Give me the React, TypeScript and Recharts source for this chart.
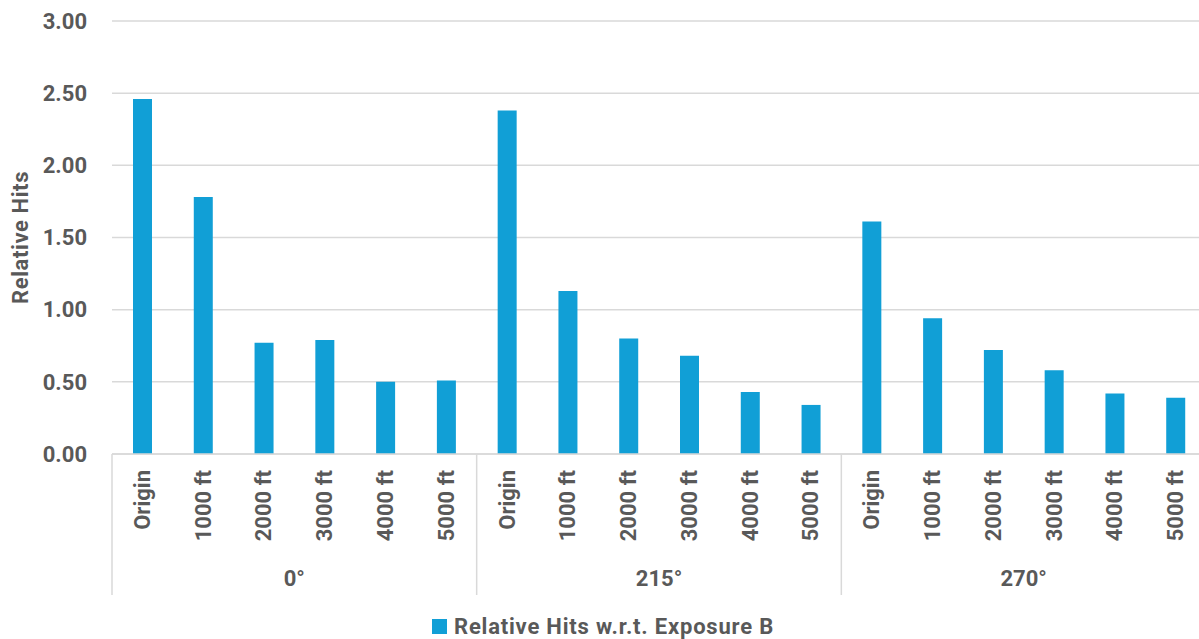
import React from 'react';
import { BarChart, Bar, XAxis, YAxis, CartesianGrid, Legend } from 'recharts';

// Bearing groups and the sampling distances within each group
const angles = ['0°', '215°', '270°'];
const distances = ['Origin', '1000 ft', '2000 ft', '3000 ft', '4000 ft', '5000 ft'];

// Relative hits per distance, one array per bearing
const hits0 = [2.46, 1.78, 0.77, 0.79, 0.5, 0.51];
const hits215 = [2.38, 1.13, 0.8, 0.68, 0.43, 0.34];
const hits270 = [1.61, 0.94, 0.72, 0.58, 0.42, 0.39];

const yTicks = [0, 0.5, 1, 1.5, 2, 2.5, 3];
const seriesName = 'Relative Hits w.r.t. Exposure B';

const seriesByAngle = [hits0, hits215, hits270];

const rows = angles.flatMap((angle, gi) =>
  distances.map((dist, di) => ({
    key: `${angle}|${dist}`,
    angle,
    dist,
    value: seriesByAngle[gi][di],
  }))
);

const W = 1215;
const H = 639;
const MARGIN = { top: 21, right: 9, bottom: 0, left: 0 };
const Y_AXIS_W = 112;
const X_AXIS_H = 145;
const LEGEND_H = 40;
const PLOT_W = W - MARGIN.left - MARGIN.right - Y_AXIS_W;
const CAT_W = PLOT_W / rows.length;

const TEXT = '#595959';
const GRID = '#d9d9d9';
const BAR = '#119fd6';
const FONT = 'Roboto, "Liberation Sans", sans-serif';

const CategoryTick = (props: any) => {
  const { x, y, payload, index } = props;
  const row = rows.find((r) => r.key === payload.value) || rows[index];
  const pos = rows.indexOf(row);
  const inGroup = pos % distances.length;
  const dividerBottom = 141;
  return (
    <g>
      <text
        x={x}
        y={y + 16}
        transform={`rotate(-90, ${x}, ${y + 16})`}
        textAnchor="end"
        dominantBaseline="central"
        fill={TEXT}
        fontSize={22}
        fontWeight={700}
        fontFamily={FONT}
      >
        {row.dist}
      </text>
      {inGroup === 0 && (
        <line x1={x - CAT_W / 2} x2={x - CAT_W / 2} y1={y} y2={y + dividerBottom} stroke={GRID} strokeWidth={1.5} />
      )}
      {pos === rows.length - 1 && (
        <line x1={x + CAT_W / 2} x2={x + CAT_W / 2} y1={y} y2={y + dividerBottom} stroke={GRID} strokeWidth={1.5} />
      )}
      {inGroup === 2 && (
        <text
          x={x + CAT_W / 2}
          y={y + 124}
          textAnchor="middle"
          dominantBaseline="central"
          fill={TEXT}
          fontSize={22}
          fontWeight={700}
          fontFamily={FONT}
        >
          {row.angle}
        </text>
      )}
    </g>
  );
};

const LegendContent = () => (
  <div
    style={{
      display: 'flex',
      justifyContent: 'center',
      alignItems: 'center',
      paddingTop: 15,
      fontFamily: FONT,
      fontWeight: 700,
      fontSize: 22,
      letterSpacing: 0.8,
      color: TEXT,
    }}
  >
    <span style={{ display: 'inline-block', width: 15, height: 15, background: BAR, marginRight: 7 }} />
    <span>{seriesName}</span>
  </div>
);

const YLabel = (props: any) => {
  const vb = props.viewBox || { x: 0, y: 0, height: 0 };
  const cx = 20;
  const cy = vb.y + vb.height / 2;
  return (
    <text
      x={cx}
      y={cy}
      transform={`rotate(-90, ${cx}, ${cy})`}
      textAnchor="middle"
      dominantBaseline="central"
      fill={TEXT}
      fontSize={22}
      fontWeight={700}
      letterSpacing={0.6}
      fontFamily={FONT}
    >
      Relative Hits
    </text>
  );
};

export default function App() {
  return (
    <div
      style={{
        position: 'fixed',
        left: 0,
        top: 0,
        width: 1199,
        height: H,
        overflow: 'hidden',
        background: '#ffffff',
      }}
    >
      <BarChart width={W} height={H} data={rows} margin={MARGIN} barCategoryGap={0}>
        <CartesianGrid vertical={false} stroke={GRID} strokeWidth={1.5} />
        <XAxis
          dataKey="key"
          interval={0}
          height={X_AXIS_H}
          tick={<CategoryTick />}
          tickLine={false}
          tickSize={0}
          tickMargin={0}
          axisLine={{ stroke: GRID, strokeWidth: 1.5 }}
        />
        <YAxis
          domain={[0, 3]}
          ticks={yTicks}
          width={Y_AXIS_W}
          tickFormatter={(v: number) => v.toFixed(2)}
          axisLine={false}
          tickLine={false}
          tickSize={0}
          tickMargin={25}
          tick={{ fill: TEXT, fontSize: 22, fontWeight: 700, fontFamily: FONT }}
          label={{ content: (p: any) => <YLabel {...p} /> }}
        />
        <Legend verticalAlign="bottom" height={LEGEND_H} content={<LegendContent />} />
        <Bar dataKey="value" name={seriesName} fill={BAR} barSize={19} isAnimationActive={false} />
      </BarChart>
    </div>
  );
}
